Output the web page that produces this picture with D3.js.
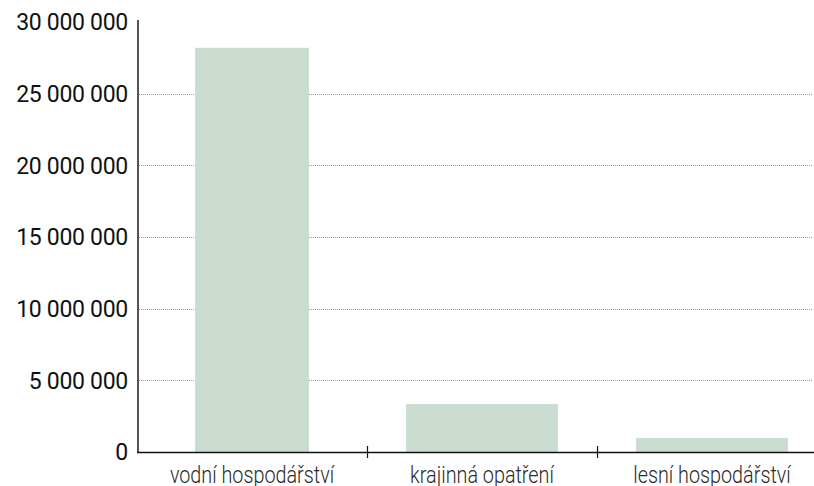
<!DOCTYPE html>
<html>
<head>
<meta charset="utf-8">
<script src="https://cdn.jsdelivr.net/npm/d3@7"></script>
<style>
  body { margin: 0; background: #fff; }
  svg { display: block; font-family: Roboto, sans-serif; }
</style>
</head>
<body>
<div id="chart"></div>
<script>
// data
var categories = ["vodní hospodářství", "krajinná opatření", "lesní hospodářství"];
var values = [28200000, 3350000, 980000];
var yTicks = [0, 5000000, 10000000, 15000000, 20000000, 25000000, 30000000];

var width = 814, height = 486,
    mLeft = 137, mTop = 22, mBottom = 452;

var svg = d3.select("#chart").append("svg").attr("width", width).attr("height", height);

var x = d3.scaleBand().domain(categories).range([mLeft, mLeft + 690]).paddingInner(0.34).paddingOuter(0.17);
var y = d3.scaleLinear().domain([0, 30000000]).range([mBottom, mTop]);

var fmt = function(d) { return d3.format(",")(d).replace(/,/g, " "); };

// gridlines
svg.selectAll("line.grid").data(yTicks.filter(function(d){ return d > 0 && d < 30000000; })).enter().append("line")
  .attr("class", "grid")
  .attr("x1", mLeft + 2).attr("x2", 812)
  .attr("y1", function(d){ return Math.round(y(d)) + 0.5; })
  .attr("y2", function(d){ return Math.round(y(d)) + 0.5; })
  .attr("stroke", "#9a9a9a").attr("stroke-width", 1).attr("stroke-dasharray", "1,1");

// bars (first one is drawn narrower in the original)
svg.selectAll("rect.bar").data(values).enter().append("rect")
  .attr("class", "bar")
  .attr("x", function(d, i){
    var w = i === 0 ? x.bandwidth() * 0.75 : x.bandwidth();
    return x(categories[i]) + x.bandwidth() / 2 - w / 2;
  })
  .attr("width", function(d, i){ return i === 0 ? x.bandwidth() * 0.75 : x.bandwidth(); })
  .attr("y", function(d){ return y(d); })
  .attr("height", function(d){ return mBottom - y(d); })
  .attr("fill", "#c9dccf");

// y axis
svg.append("line").attr("x1", mLeft + 1).attr("x2", mLeft + 1).attr("y1", mTop - 2).attr("y2", mBottom)
  .attr("stroke", "#555").attr("stroke-width", 2);
svg.selectAll("text.ylab").data(yTicks).enter().append("text")
  .attr("class", "ylab")
  .attr("x", 128).attr("y", function(d){ return y(d); }).attr("dy", "0.36em")
  .attr("text-anchor", "end").attr("font-size", 23).attr("letter-spacing", -0.3).attr("fill", "#111")
  .text(fmt);

// x axis
svg.append("line").attr("x1", mLeft).attr("x2", width).attr("y1", mBottom + 0.5).attr("y2", mBottom + 0.5)
  .attr("stroke", "#111").attr("stroke-width", 1.5);
var step = x.step();
svg.selectAll("line.xtick").data(categories.slice(1)).enter().append("line")
  .attr("class", "xtick")
  .attr("x1", function(d){ return Math.round(x(d) + x.bandwidth() / 2 - step / 2) + 0.5; })
  .attr("x2", function(d){ return Math.round(x(d) + x.bandwidth() / 2 - step / 2) + 0.5; })
  .attr("y1", mBottom - 6).attr("y2", mBottom + 6)
  .attr("stroke", "#111").attr("stroke-width", 1.2);
svg.selectAll("text.xlab").data(categories).enter().append("text")
  .attr("class", "xlab")
  .attr("x", function(d){ return x(d) + x.bandwidth() / 2; })
  .attr("y", 483)
  .attr("text-anchor", "middle").attr("font-size", 23).attr("font-weight", 300).attr("fill", "#2a2a2a")
  .text(function(d){ return d; })
  .each(function(){
    // squeeze glyphs horizontally to mimic the narrow face of the original
    var w = this.getComputedTextLength();
    d3.select(this).attr("textLength", w * 0.86).attr("lengthAdjust", "spacingAndGlyphs");
  });
</script>
</body>
</html>
